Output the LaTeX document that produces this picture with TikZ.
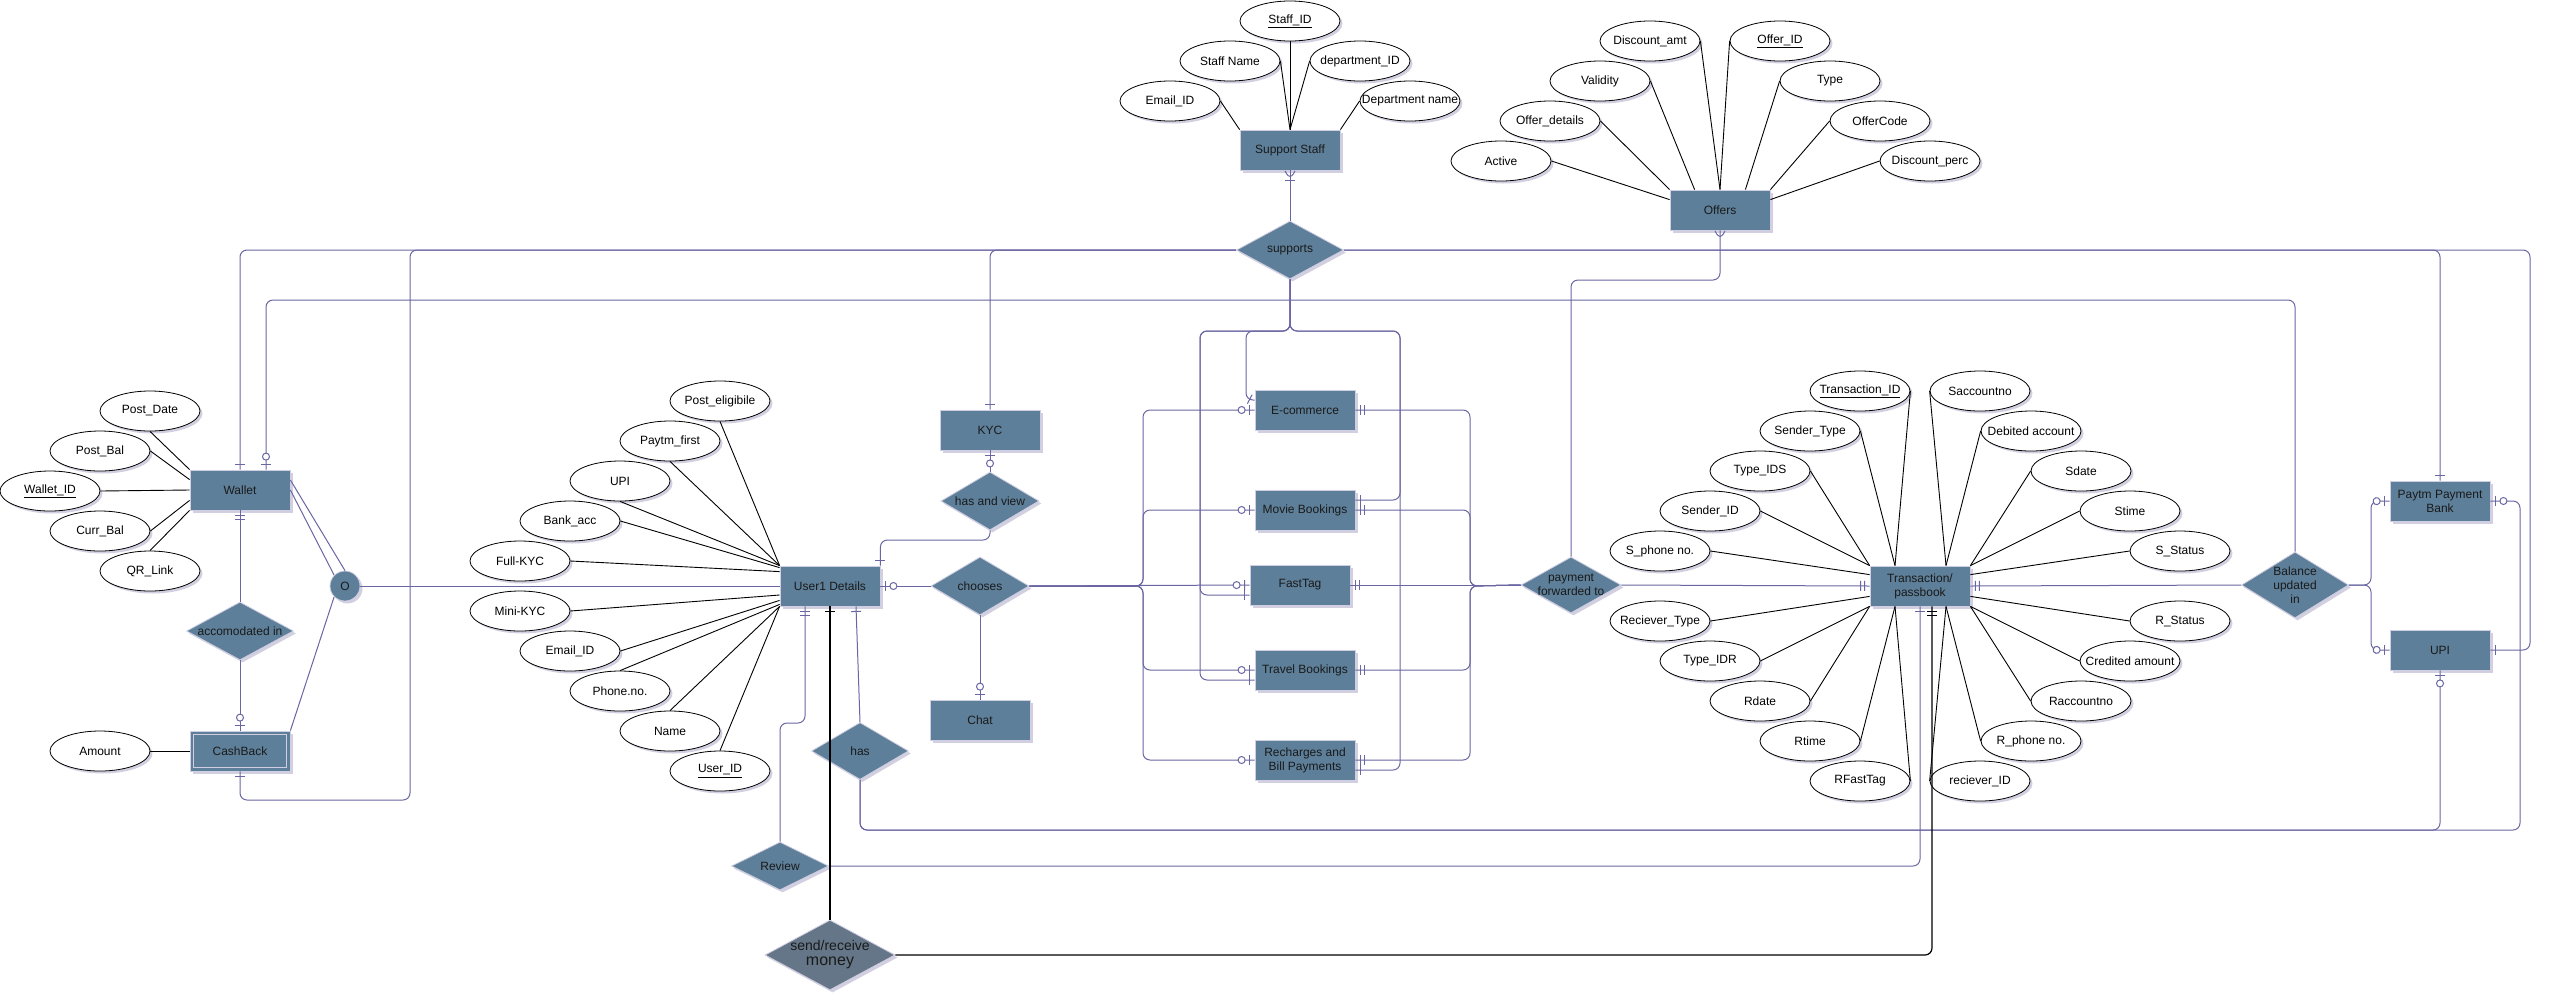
\documentclass[tikz,border=0pt]{standalone}
\usepackage{fontspec}
\setmainfont{Liberation Sans}
\usetikzlibrary{shapes.geometric,shadows,decorations.markings,calc}

\definecolor{entfill}{HTML}{5D7F99}
\definecolor{entline}{HTML}{D0CEE2}
\definecolor{lc}{HTML}{6A66A3}
\definecolor{srfill}{HTML}{647687}
\definecolor{txtc}{HTML}{1A1A1A}
\definecolor{shade}{HTML}{B4B2CC}

% cardinality glyphs, drawn in the local frame of a marking
\newcommand\erbar{\draw[draw=lc,line width=1pt] (0,-5pt)--(0,5pt);}
\newcommand\erbark{\draw[draw=black,line width=1.2pt] (0,-5pt)--(0,5pt);}
\newcommand\ercirc{\draw[draw=lc,line width=1pt,fill=white] (0,0) circle[radius=3.5pt];}
\newcommand\erfoot{\draw[draw=lc,line width=1pt] (0,5pt)--(-9pt,0)--(0,-5pt);}

\tikzset{
  sh/.style={drop shadow={shadow xshift=2.5pt,shadow yshift=-2.5pt,fill=shade,opacity=0.6}},
  entbox/.style={rectangle,fill=entfill,draw=entline,line width=0.8pt,minimum width=100pt,minimum height=40pt,inner sep=0pt,sh},
  attrshape/.style={ellipse,draw=black,fill=white,line width=0.8pt,minimum width=100pt,minimum height=40pt,inner sep=0pt,sh},
  relshape/.style={diamond,fill=entfill,draw=entline,line width=0.8pt,inner sep=0pt,sh},
  txt/.style={inner sep=0pt,align=center,font=\fontsize{12}{14}\selectfont,text=txtc},
  rl/.style={draw=lc,line width=1pt,rounded corners=7pt},
  al/.style={draw=black,line width=0.9pt},
  bl/.style={draw=black,line width=1.2pt,rounded corners=7pt},
  mk/.style={postaction={decorate,decoration={markings,mark=#1}}},
  e1/.style={mk={at position -5pt with {\erbar}}},
  e11/.style={mk={at position -9pt with {\erbar}},mk={at position -5pt with {\erbar}}},
  e01/.style={mk={at position -13pt with {\ercirc}},mk={at position -5pt with {\erbar}}},
  s1/.style={mk={at position 5pt with {\erbar}}},
  s11/.style={mk={at position 5pt with {\erbar}},mk={at position 9pt with {\erbar}}},
  s01/.style={mk={at position 5pt with {\erbar}},mk={at position 13pt with {\ercirc}}},
  em/.style={mk={at position -0.5pt with {\erfoot}}},
  e1m/.style={mk={at position -10pt with {\erbar}},mk={at position -0.5pt with {\erfoot}}},
  s1k/.style={mk={at position 5pt with {\erbark}}},
  e11k/.style={mk={at position -9pt with {\erbark}},mk={at position -5pt with {\erbark}}},
}

\newcommand\erent[4][]{\node[entbox,#1] (#2) at (#3) {}; \node[txt] (#2-t) at (#2) {#4};}
\newcommand\erattr[3]{\node[attrshape] (#1) at (#2) {}; \node[txt,text=black] (#1-t) at (#1) {#3};}
\newcommand\errel[4][]{\node[relshape,#1] (#2) at (#3) {}; \node[txt] (#2-t) at (#2) {#4};}

\begin{document}
\begin{tikzpicture}[x=1pt,y=-1pt]
\fill[white] (0,0) rectangle (2550,1002);
\useasboundingbox (0,0) rectangle (2550,1002);

% ---------- Wallet and cashback ----------
\erent{wal}{240,490}{Wallet}
\erattr{pdate}{150,411}{Post\_Date}
\erattr{pbal}{100,451}{Post\_Bal}
\erattr{wid}{50,491}{\underline{Wallet\_ID}}
\erattr{cbal}{100,531}{Curr\_Bal}
\erattr{qr}{150,571}{QR\_Link}
\errel[minimum width=107pt,minimum height=58pt]{acc}{240,631}{accomodated in}
\erent{cb}{240,751}{CashBack}
\draw[entline,line width=0.9pt] ([shift={(4pt,4pt)}]cb.south west) rectangle ([shift={(-4pt,-4pt)}]cb.north east);
\erattr{amt}{100,751}{Amount}
\node[circle,fill=entfill,draw=entline,line width=0.8pt,minimum size=30pt,inner sep=0pt,sh] (o) at (345,586) {};
\node[txt] (o-t) at (o) {O};

% ---------- User ----------
\erent{u}{830,586}{User1 Details}
\erattr{pel}{720,401}{Post\_eligibile}
\erattr{pf}{670,441}{Paytm\_first}
\erattr{uupi}{620,481}{UPI}
\erattr{bank}{570,521}{Bank\_acc}
\erattr{fkyc}{520,561}{Full-KYC}
\erattr{mkyc}{520,611}{Mini-KYC}
\erattr{uemail}{570,651}{Email\_ID}
\erattr{phone}{620,691}{Phone.no.}
\erattr{uname}{670,731}{Name}
\erattr{uid}{720,771}{\underline{User\_ID}}

\erent{kyc}{990,430}{KYC}
\errel[minimum width=98pt,minimum height=58pt]{hv}{990,501}{has and view}
\errel[minimum width=98pt,minimum height=58pt]{ch}{980,586}{chooses}
\erent{chat}{980,720}{Chat}
\errel[minimum width=97pt,minimum height=57pt]{has}{860,751}{has}
\errel[minimum width=97pt,minimum height=48pt]{rev}{780,866}{Review}
\node[diamond,fill=srfill,draw=entline,line width=0.8pt,inner sep=0pt,minimum width=130pt,minimum height=70pt,sh] (srm) at (830,955) {};
\node[inner sep=0pt,align=center,text=txtc] (srm-t) at (830,955) {{\fontsize{14}{15}\selectfont send/receive}\\[3pt]{\fontsize{16}{17}\selectfont money}};

% ---------- Support staff ----------
\erent{ss}{1290,150}{Support Staff}
\erattr{sid}{1290,21}{\underline{Staff\_ID}}
\erattr{sname}{1230,61}{Staff Name}
\erattr{did}{1360,61}{department\_ID}
\erattr{semail}{1170,101}{Email\_ID}
\erattr{dname}{1410,101}{Department name}
\errel[minimum width=107pt,minimum height=58pt]{sup}{1290,250}{supports}

% ---------- Offers ----------
\erent{off}{1720,210}{Offers}
\erattr{damt}{1650,41}{Discount\_amt}
\erattr{oid}{1780,41}{\underline{Offer\_ID}}
\erattr{valid}{1600,81}{Validity}
\erattr{otype}{1830,81}{Type}
\erattr{odet}{1550,121}{Offer\_details}
\erattr{ocode}{1880,121}{OfferCode}
\erattr{active}{1501,161}{Active}
\erattr{dperc}{1930,161}{Discount\_perc}

% ---------- Services ----------
\erent{ecom}{1305,410}{E-commerce}
\erent{mov}{1305,510}{Movie Bookings}
\erent{ft}{1300,585}{FastTag}
\erent{trav}{1305,670}{Travel Bookings}
\erent{rech}{1305,760}{Recharges and\\Bill Payments}
\errel[minimum width=100pt,minimum height=56pt]{pay}{1571,585}{payment\\forwarded to}

% ---------- Transaction ----------
\erent{tr}{1920,586}{Transaction/\\passbook}
\erattr{tid}{1860,391}{\underline{Transaction\_ID}}
\erattr{stype}{1810,431}{Sender\_Type}
\erattr{tids}{1760,471}{Type\_IDS}
\erattr{sndid}{1710,511}{Sender\_ID}
\erattr{sph}{1660,551}{S\_phone no.}
\erattr{rtype}{1660,621}{Reciever\_Type}
\erattr{tidr}{1710,661}{Type\_IDR}
\erattr{rdate}{1760,701}{Rdate}
\erattr{rtime}{1810,741}{Rtime}
\erattr{rft}{1860,781}{RFastTag}
\erattr{sacc}{1980,391}{Saccountno}
\erattr{deb}{2031,431}{Debited account}
\erattr{sdate}{2081,471}{Sdate}
\erattr{stime}{2130,511}{Stime}
\erattr{sstat}{2180,551}{S\_Status}
\erattr{rstat}{2180,621}{R\_Status}
\erattr{cred}{2130,661}{Credited amount}
\erattr{racc}{2081,701}{Raccountno}
\erattr{rph}{2031,741}{R\_phone no.}
\erattr{rid}{1980,781}{reciever\_ID}

% ---------- Bank side ----------
\errel[minimum width=107pt,minimum height=66pt]{bal}{2295,585}{Balance\\updated\\in}
\erent{pb}{2440,501}{Paytm Payment\\Bank}
\erent{upi}{2440,650}{UPI}

% ---------- attribute links ----------
\draw[al] (pdate.south) -- (wal.north west);
\draw[al] (pbal.east) -- ([yshift=-10pt]wal.north west);
\draw[al] (wid.east) -- (wal.west);
\draw[al] (cbal.east) -- ([yshift=10pt]wal.south west);
\draw[al] (qr.north) -- (wal.south west);
\draw[al] (amt.east) -- (cb.west);

\draw[al] (pel.south) -- (u.north west);
\draw[al] (pf.south) -- (u.north west);
\draw[al] (uupi.south) -- (u.north west);
\draw[al] (bank.east) -- ([yshift=-2pt]u.north west);
\draw[al] (fkyc.east) -- ([yshift=-6pt]u.north west);
\draw[al] (mkyc.east) -- ([yshift=-9pt]u.west);
\draw[al] (uemail.east) -- ([yshift=6pt]u.south west);
\draw[al] (phone.north) -- ([yshift=2pt]u.south west);
\draw[al] (uname.north) -- (u.south west);
\draw[al] (uid.north) -- (u.south west);

\draw[al] (semail.east) -- (ss.north west);
\draw[al] (sname.east) -- (ss.north);
\draw[al] (sid.south) -- (ss.north);
\draw[al] (did.west) -- (ss.north);
\draw[al] (dname.west) -- (ss.north east);

\draw[al] (active.east) -- ([yshift=-10pt]off.north west);
\draw[al] (odet.east) -- (off.north west);
\draw[al] (valid.east) -- ([xshift=25pt]off.north west);
\draw[al] (damt.east) -- (off.north);
\draw[al] (oid.west) -- (off.north);
\draw[al] (otype.west) -- ([xshift=-25pt]off.north east);
\draw[al] (ocode.west) -- (off.north east);
\draw[al] (dperc.west) -- ([yshift=-10pt]off.north east);

\draw[al] (tid.east) -- ([xshift=-25pt]tr.north);
\draw[al] (stype.east) -- ([xshift=-25pt]tr.north);
\draw[al] (tids.east) -- (tr.north west);
\draw[al] (sndid.east) -- (tr.north west);
\draw[al] (sph.east) -- ([yshift=-9pt]tr.north west);
\draw[al] (rtype.east) -- ([yshift=10pt]tr.south west);
\draw[al] (tidr.east) -- (tr.south west);
\draw[al] (rdate.east) -- (tr.south west);
\draw[al] (rtime.east) -- ([xshift=-25pt]tr.south);
\draw[al] (rft.east) -- ([xshift=-25pt]tr.south);
\draw[al] (sacc.west) -- ([xshift=26pt]tr.north);
\draw[al] (deb.west) -- ([xshift=26pt]tr.north);
\draw[al] (sdate.west) -- (tr.north east);
\draw[al] (stime.west) -- (tr.north east);
\draw[al] (sstat.west) -- ([yshift=-9pt]tr.north east);
\draw[al] (rstat.west) -- ([yshift=10pt]tr.south east);
\draw[al] (cred.west) -- (tr.south east);
\draw[al] (racc.west) -- (tr.south east);
\draw[al] (rph.west) -- ([xshift=26pt]tr.south);
\draw[al] (rid.west) -- ([xshift=26pt]tr.south);

% ---------- relationship links ----------
% supports
\draw[rl,e1m] (sup.north) -- (ss.south);
\draw[rl,e1] (sup.west) -| (wal.north);
\draw[rl,e1] (sup.west) -| (kyc.north);
\draw[rl,e1] (sup.west) -- (410,250) -- (410,800) -- (240,800) -- (cb.south);
\draw[rl,e1] (sup.south) -- (1290,331) -| (1246,400) -- ([yshift=10pt]ecom.west);
\draw[rl,e1] (sup.south) -- (1290,331) -| (1200,595) -- ([yshift=-10pt]ft.west);
\draw[rl,e1] (sup.south) -- (1290,331) -| (1200,680) -- ([yshift=-10pt]trav.west);
\draw[rl,e1] (sup.south) -- (1290,331) -| (1400,500) -- ([yshift=10pt]mov.east);
\draw[rl,e1] (sup.south) -- (1290,331) -| (1400,770) -- ([yshift=-10pt]rech.east);
\draw[rl,e1] (sup.east) -| (pb.north);
\draw[rl,e1] (sup.east) -- (2530,250) |- (upi.east);

% wallet side
\draw[rl,e01] (bal.north) |- (266,300) -- ([xshift=26pt]wal.north);
\draw[rl,s11] (wal.south) -- (acc.north);
\draw[rl,e01] (acc.south) -- (cb.north);
\draw[rl] ([yshift=10pt]wal.east) -- (o.north);
\draw[rl] (wal.east) -- (o.north west);
\draw[rl] (cb.north east) -- (o.south west);
\draw[rl] (o.east) -- (u.west);

% user side
\draw[rl,s01] (kyc.south) -- (hv.north);
\draw[rl,e1] (hv.south) -- (990,540) -| (u.north east);
\draw[rl,s01] (u.east) -- (ch.west);
\draw[rl,e01] (ch.south) -- (chat.north);
\draw[rl,s1] ([xshift=26pt]u.south) -- (has.north);
\draw[rl,s11] ([xshift=-25pt]u.south) -- (805,723) -| (rev.north);
\draw[rl,e1] (rev.east) -| (tr.south);
\draw[rl,e01] (has.south) |- (2520,830) |- (pb.east);
\draw[rl,e01] (has.south) -- (860,830) -| (upi.south);
\draw[bl,s1k] (u.south) -- (srm.north);
\draw[bl,e11k] (srm.east) -| ([xshift=12pt]tr.south);

% chooses -> services
\draw[rl,e01] (ch.east) -- (1143,586) |- (ecom.west);
\draw[rl,e01] (ch.east) -- (1143,586) |- (mov.west);
\draw[rl,e01] (ch.east) -- (ft.west);
\draw[rl,e01] (ch.east) -- (1143,586) |- (trav.west);
\draw[rl,e01] (ch.east) -- (1143,586) |- (rech.west);

% services -> payment
\draw[rl,s11] (ecom.east) -| (1470,586) -- (pay.west);
\draw[rl,s11] (mov.east) -| (1470,586) -- (pay.west);
\draw[rl,s11] (ft.east) -- (pay.west);
\draw[rl,s11] (trav.east) -| (1470,586) -- (pay.west);
\draw[rl,s11] (rech.east) -| (1470,586) -- (pay.west);

% payment, transaction, balance
\draw[rl,em] (pay.north) |- (1720,280) -- (off.south);
\draw[rl,e11] (pay.east) -- (tr.west);
\draw[rl,s11] (tr.east) -- (bal.west);
\draw[rl,e01] (bal.east) -- (2371,585) |- (pb.west);
\draw[rl,e01] (bal.east) -- (2371,585) |- (upi.west);
\end{tikzpicture}
\end{document}
